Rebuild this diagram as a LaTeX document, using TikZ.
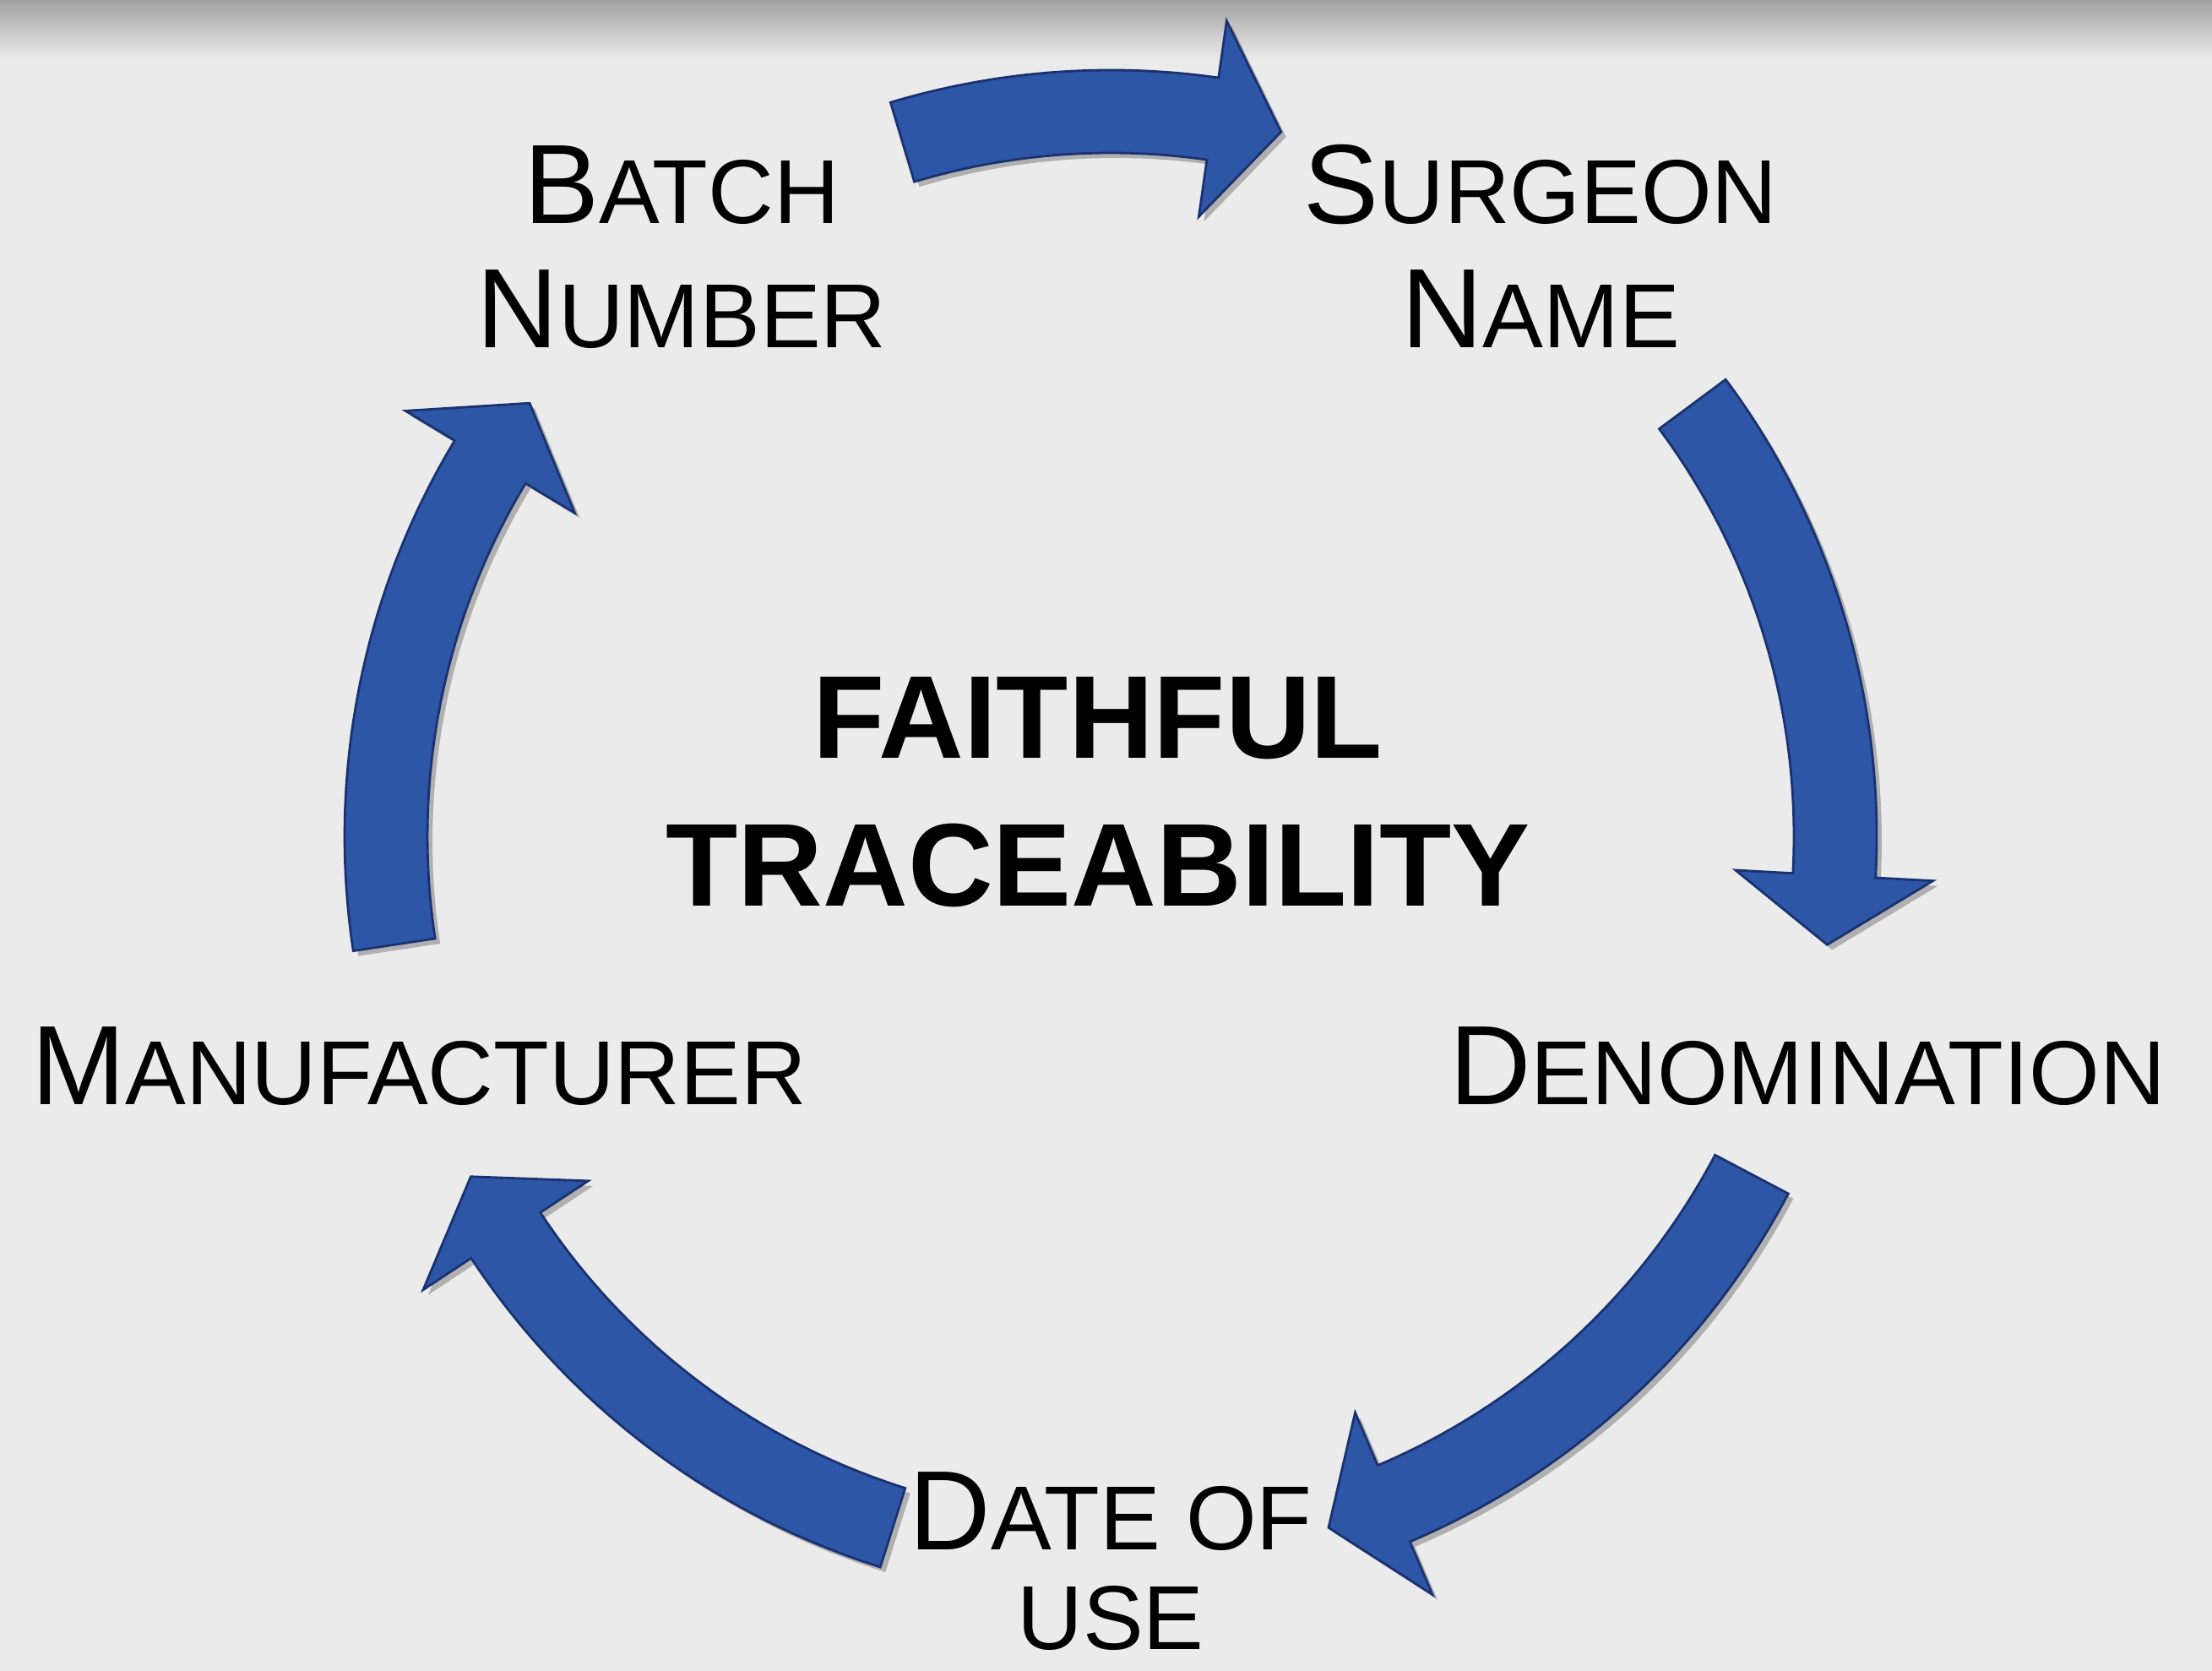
\documentclass[tikz,border=0pt]{standalone}
\usepackage{fontspec}
\setmainfont{Liberation Sans}
\usetikzlibrary{shadows}

\definecolor{bggray}{RGB}{235,235,235}
\definecolor{topgray}{RGB}{160,160,160}
\definecolor{arrowblue}{RGB}{45,86,167}
\definecolor{arrowedge}{RGB}{27,50,112}

% fake small caps: large initial, smaller capitals
\newcommand\capbig[1]{{\fontsize{38}{42.1}\selectfont #1}}
\newcommand\capsmall[1]{{\fontsize{30.6}{37}\selectfont #1}}

\tikzset{
  steplabel/.style={anchor=base, align=center, inner sep=0pt, text=black},
  cyclearrow/.style={fill=arrowblue, draw=arrowedge, line width=0.8pt, line join=miter,
    drop shadow={shadow xshift=0.06cm, shadow yshift=-0.06cm, opacity=0.25, fill=black}},
}

\begin{document}
\begin{tikzpicture}
\useasboundingbox (0,0) rectangle (26.19,19.78);
\fill[bggray] (0,0) rectangle (26.19,19.78);
\shade[top color=topgray, bottom color=bggray] (0,19.08) rectangle (26.19,19.78);

% labels round the cycle (base = last line)
\node[steplabel, font=\fontsize{38}{42.1}\selectfont] (batch) at (8.07,15.66) {\capbig{B}\capsmall{ATCH}\\\capbig{N}\capsmall{UMBER}};
\node[steplabel, font=\fontsize{38}{42.1}\selectfont] (surgeon) at (18.24,15.66) {\capbig{S}\capsmall{URGEON}\\\capbig{N}\capsmall{AME}};
\node[steplabel, font=\fontsize{38}{42.1}\selectfont] (denomination) at (21.40,6.70) {\capbig{D}\capsmall{ENOMINATION}};
\node[steplabel, font=\fontsize{38}{33.6}\selectfont] (dateofuse) at (13.15,0.25) {\capbig{D}\capsmall{ATE OF}\\\capsmall{USE}};
\node[steplabel, font=\fontsize{38}{42.1}\selectfont] (manufacturer) at (4.96,6.70) {\capbig{M}\capsmall{ANUFACTURER}};

% centre title
\node[steplabel, font=\bfseries\fontsize{39.7}{49.8}\selectfont] (title) at (13.00,9.05) {FAITHFUL\\TRACEABILITY};

% curved block arrows on one circle
\begin{scope}[shift={(13.15,9.88)}]
\path[cyclearrow] (106.7:9.07) arc[start angle=106.7, end angle=81.9, radius=9.07] -- (81.9:9.75) -- (76.4:8.58) -- (81.9:7.41) -- (81.9:8.09) arc[start angle=81.9, end angle=106.7, radius=8.09] -- cycle;
\path[cyclearrow] (36.6:9.07) arc[start angle=36.6, end angle=-3.1, radius=9.07] -- (-3.1:9.75) -- (-8.6:8.58) -- (-3.1:7.41) -- (-3.1:8.09) arc[start angle=-3.1, end angle=36.6, radius=8.09] -- cycle;
\path[cyclearrow] (-27.8:9.07) arc[start angle=-27.8, end angle=-67.0, radius=9.07] -- (-67.0:9.75) -- (-72.5:8.58) -- (-67.0:7.41) -- (-67.0:8.09) arc[start angle=-67.0, end angle=-27.8, radius=8.09] -- cycle;
\path[cyclearrow] (252.5:9.07) arc[start angle=252.5, end angle=213.4, radius=9.07] -- (213.4:9.75) -- (208.0:8.58) -- (213.4:7.41) -- (213.4:8.09) arc[start angle=213.4, end angle=252.5, radius=8.09] -- cycle;
\path[cyclearrow] (188.6:9.07) arc[start angle=188.6, end angle=148.9, radius=9.07] -- (148.9:9.75) -- (143.3:8.58) -- (148.9:7.41) -- (148.9:8.09) arc[start angle=148.9, end angle=188.6, radius=8.09] -- cycle;
\end{scope}
\end{tikzpicture}
\end{document}
